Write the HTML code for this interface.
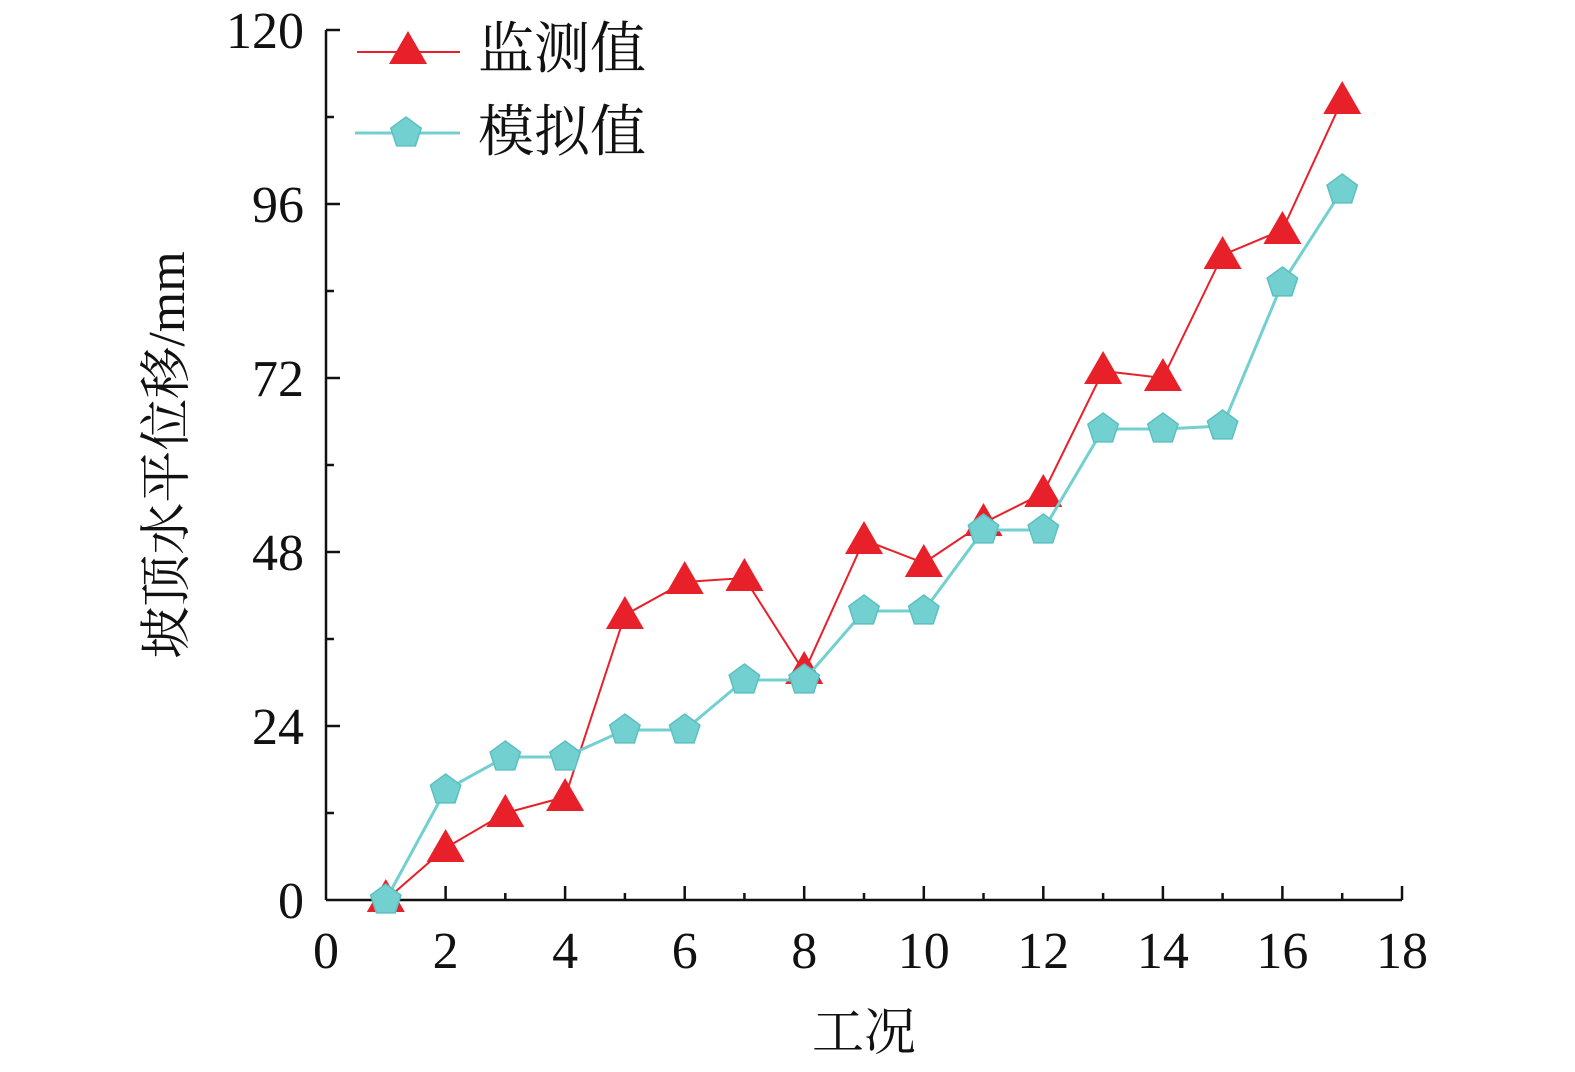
<!DOCTYPE html>
<html><head><meta charset="utf-8"><style>
html,body{margin:0;padding:0;background:#fff;}
svg{display:block}
text{font-family:"Liberation Serif","Noto Serif CJK SC",serif;fill:#111}
</style></head><body>
<svg width="1575" height="1072" viewBox="0 0 1575 1072" xmlns="http://www.w3.org/2000/svg">
<g stroke="#111" stroke-width="2.5" fill="none">
<line x1="326" y1="30" x2="326" y2="900"/>
<line x1="326" y1="900" x2="1402" y2="900"/>
</g>
<g stroke="#111" stroke-width="2.5">
<line x1="326" y1="30" x2="340" y2="30"/>
<line x1="326" y1="117" x2="334" y2="117"/>
<line x1="326" y1="204" x2="340" y2="204"/>
<line x1="326" y1="291" x2="334" y2="291"/>
<line x1="326" y1="378" x2="340" y2="378"/>
<line x1="326" y1="465" x2="334" y2="465"/>
<line x1="326" y1="552" x2="340" y2="552"/>
<line x1="326" y1="639" x2="334" y2="639"/>
<line x1="326" y1="726" x2="340" y2="726"/>
<line x1="326" y1="813" x2="334" y2="813"/>
<line x1="445.6" y1="900" x2="445.6" y2="886"/>
<line x1="565.1" y1="900" x2="565.1" y2="886"/>
<line x1="684.7" y1="900" x2="684.7" y2="886"/>
<line x1="804.2" y1="900" x2="804.2" y2="886"/>
<line x1="923.8" y1="900" x2="923.8" y2="886"/>
<line x1="1043.3" y1="900" x2="1043.3" y2="886"/>
<line x1="1162.9" y1="900" x2="1162.9" y2="886"/>
<line x1="1282.4" y1="900" x2="1282.4" y2="886"/>
<line x1="1402" y1="900" x2="1402" y2="886"/>
<line x1="385.8" y1="900" x2="385.8" y2="893"/>
<line x1="505.3" y1="900" x2="505.3" y2="893"/>
<line x1="624.9" y1="900" x2="624.9" y2="893"/>
<line x1="744.4" y1="900" x2="744.4" y2="893"/>
<line x1="864" y1="900" x2="864" y2="893"/>
<line x1="983.5" y1="900" x2="983.5" y2="893"/>
<line x1="1103.1" y1="900" x2="1103.1" y2="893"/>
<line x1="1222.6" y1="900" x2="1222.6" y2="893"/>
<line x1="1342.2" y1="900" x2="1342.2" y2="893"/>
</g>
<g font-size="52" text-anchor="end">
<text x="304" y="48">120</text>
<text x="304" y="222">96</text>
<text x="304" y="396">72</text>
<text x="304" y="570">48</text>
<text x="304" y="744">24</text>
<text x="304" y="918">0</text>
</g>
<g font-size="52" text-anchor="middle">
<text x="326" y="968">0</text>
<text x="445.6" y="968">2</text>
<text x="565.1" y="968">4</text>
<text x="684.7" y="968">6</text>
<text x="804.2" y="968">8</text>
<text x="923.8" y="968">10</text>
<text x="1043.3" y="968">12</text>
<text x="1162.9" y="968">14</text>
<text x="1282.4" y="968">16</text>
<text x="1402" y="968">18</text>
</g>
<text x="864" y="1050" font-size="52" text-anchor="middle">工况</text>
<text transform="translate(184,455) rotate(-90)" font-size="52" text-anchor="middle">坡顶水平位移/mm</text>
<defs>
<polygon id="tri" points="0,-19 19,14 -19,14" fill="#e8202a"/>
<polygon id="pen" points="0,-16 15.2,-4.9 9.4,12.9 -9.4,12.9 -15.2,-4.9" fill="#72d0d0" stroke="#5cbfc0" stroke-width="1.5"/>
</defs>
<polyline fill="none" stroke="#e8202a" stroke-width="2" points="385.8,900 445.6,848 505.3,813 565.1,797 624.9,615 684.7,582 744.4,578 804.2,672 864,540 923.8,563 983.5,523 1043.3,493 1103.1,371 1162.9,378 1222.6,255 1282.4,230 1342.2,100"/>
<g>
<use href="#tri" x="385.8" y="898"/><use href="#tri" x="445.6" y="848"/><use href="#tri" x="505.3" y="813"/><use href="#tri" x="565.1" y="797"/><use href="#tri" x="624.9" y="615"/><use href="#tri" x="684.7" y="580"/><use href="#tri" x="744.4" y="577"/><use href="#tri" x="804.2" y="670"/><use href="#tri" x="864" y="540"/><use href="#tri" x="923.8" y="563"/><use href="#tri" x="983.5" y="522"/><use href="#tri" x="1043.3" y="493"/><use href="#tri" x="1103.1" y="370"/><use href="#tri" x="1162.9" y="377"/><use href="#tri" x="1222.6" y="255"/><use href="#tri" x="1282.4" y="230"/><use href="#tri" x="1342.2" y="100"/>
</g>
<polyline fill="none" stroke="#72d0d0" stroke-width="3" points="385.8,900 445.6,790 505.3,757 565.1,757 624.9,730 684.7,730 744.4,680 804.2,680 864,611 923.8,611 983.5,530 1043.3,530 1103.1,429 1162.9,429 1222.6,426 1282.4,283 1342.2,190"/>
<g>
<use href="#pen" x="385.8" y="900"/><use href="#pen" x="445.6" y="790"/><use href="#pen" x="505.3" y="757"/><use href="#pen" x="565.1" y="757"/><use href="#pen" x="624.9" y="730"/><use href="#pen" x="684.7" y="730"/><use href="#pen" x="744.4" y="680"/><use href="#pen" x="804.2" y="680"/><use href="#pen" x="864" y="611"/><use href="#pen" x="923.8" y="611"/><use href="#pen" x="983.5" y="530"/><use href="#pen" x="1043.3" y="530"/><use href="#pen" x="1103.1" y="429"/><use href="#pen" x="1162.9" y="429"/><use href="#pen" x="1222.6" y="426"/><use href="#pen" x="1282.4" y="283"/><use href="#pen" x="1342.2" y="190"/>
</g>
<line x1="357" y1="52" x2="460" y2="52" stroke="#e8202a" stroke-width="2"/>
<use href="#tri" x="408" y="50"/>
<text x="478" y="68" font-size="56">监测值</text>
<line x1="355" y1="133" x2="460" y2="133" stroke="#72d0d0" stroke-width="3"/>
<use href="#pen" x="406" y="133"/>
<text x="478" y="151" font-size="56">模拟值</text>
</svg>
</body></html>
